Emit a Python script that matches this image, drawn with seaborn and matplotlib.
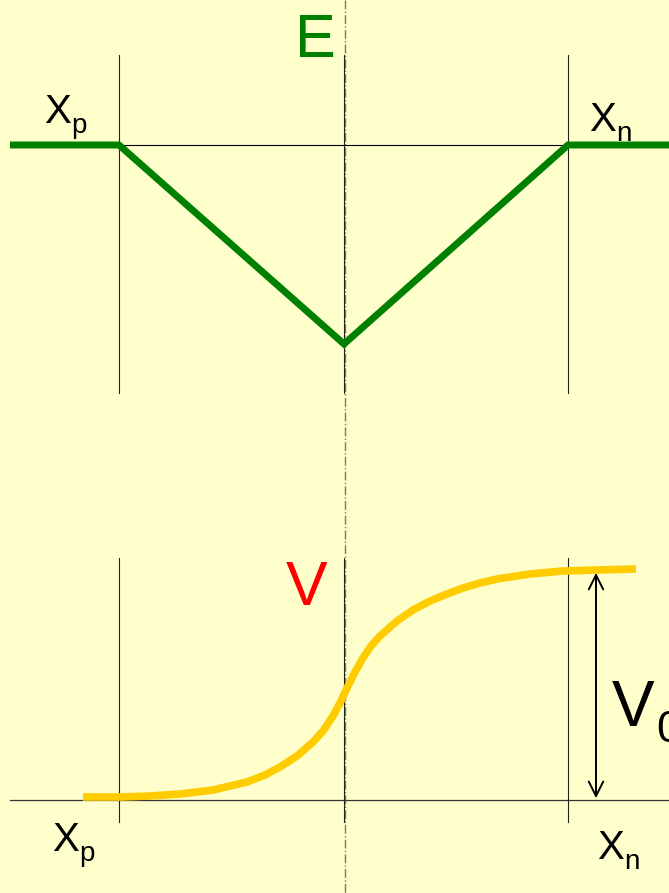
import matplotlib
matplotlib.use("Agg")
import matplotlib.pyplot as plt
import seaborn as sns
import pandas as pd

# picture coordinates: x to the right, y downwards (pixels of the 669x893 sheet)
e_x = [10, 119, 344, 568, 669]
e_y = [145, 145, 344, 145, 145]

v_x = [83, 120, 150, 180, 213, 247, 265, 280, 297, 313, 323, 333, 340, 347,
       355, 363, 371, 380, 397, 413, 430, 447, 463, 480, 497, 530, 563, 597, 636]
v_y = [797, 797, 796, 794, 790, 782, 775, 767, 756, 742, 731, 716, 703, 688,
       672, 658, 646, 636, 621, 610, 601, 594, 588, 583, 579, 574, 571, 570, 569]

x_p, x_mid, x_n = 119, 344, 568
bg = "#FFFFCC"

fig = plt.figure(figsize=(6.69, 8.93), dpi=100)
fig.patch.set_facecolor(bg)
ax = fig.add_axes([0, 0, 1, 1])
ax.set_facecolor(bg)

# dash-dot centre line through everything
ax.plot([x_mid + 1, x_mid + 1], [0, 893], color="#7a7a60", lw=1.0, ls="-.")

# upper frame
for xv in (x_p, x_mid, x_n):
    ax.plot([xv, xv], [55, 393], color="#222222", lw=0.8)
ax.plot([x_p, x_n], [145, 145], color="black", lw=0.8)

# lower frame
for xv in (x_p, x_mid, x_n):
    ax.plot([xv, xv], [558, 822], color="#222222", lw=0.8)
ax.plot([10, 669], [800, 800], color="#333333", lw=0.9)

df_e = pd.DataFrame({"x": e_x, "y": e_y})
df_v = pd.DataFrame({"x": v_x, "y": v_y})
sns.lineplot(data=df_e, x="x", y="y", ax=ax, color="#008000", lw=5, sort=False,
             solid_joinstyle="miter", solid_capstyle="butt")
sns.lineplot(data=df_v, x="x", y="y", ax=ax, color="#FFCC00", lw=5.5, sort=False,
             solid_joinstyle="round", solid_capstyle="butt")
ax.set_xlim(0, 669)
ax.set_ylim(893, 0)
ax.axis("off")

# V0 arrow
ax.annotate("", xy=(596, 570), xytext=(596, 801),
            arrowprops=dict(arrowstyle="<->", color="black", lw=1.4, mutation_scale=26))

font = "Liberation Sans"
ax.text(315, 57, "E", color="#008000", fontsize=44, family=font, ha="center", va="baseline")
ax.text(307, 605, "V", color="red", fontsize=45, family=font, ha="center", va="baseline")
ax.text(612, 726, "V", color="black", fontsize=46, family=font, ha="left", va="baseline")
ax.text(656, 742, "0", color="black", fontsize=32, family=font, ha="left", va="baseline")

def x_label(x, y, sub):
    ax.text(x, y, "X", color="black", fontsize=29, family=font, ha="left", va="baseline")
    ax.text(x + 27, y + 10, sub, color="black", fontsize=20, family=font, ha="left", va="baseline")

x_label(44, 123, "p")
x_label(589, 131, "n")
x_label(52, 851, "p")
x_label(597, 859, "n")

fig.savefig("out.png", dpi=100, facecolor=bg)
